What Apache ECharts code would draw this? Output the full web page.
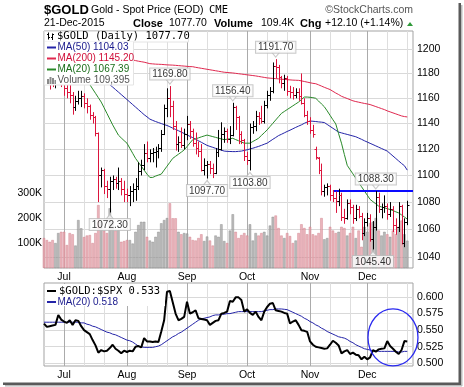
<!DOCTYPE html>
<html><head><meta charset="utf-8">
<script src="https://cdn.jsdelivr.net/npm/echarts@6/dist/echarts.min.js"></script>
<style>html,body{margin:0;padding:0;background:#fff}#c{width:464px;height:387px}</style>
</head><body><div id="c"></div>
<script>
// ---------- DATA ----------
const dates = [
'2015-06-22','2015-06-23','2015-06-24','2015-06-25','2015-06-26','2015-06-29','2015-06-30',
'2015-07-01','2015-07-02','2015-07-06','2015-07-07','2015-07-08','2015-07-09','2015-07-10','2015-07-13','2015-07-14','2015-07-15','2015-07-16','2015-07-17','2015-07-20','2015-07-21','2015-07-22','2015-07-23','2015-07-24','2015-07-27','2015-07-28','2015-07-29','2015-07-30','2015-07-31',
'2015-08-03','2015-08-04','2015-08-05','2015-08-06','2015-08-07','2015-08-10','2015-08-11','2015-08-12','2015-08-13','2015-08-14','2015-08-17','2015-08-18','2015-08-19','2015-08-20','2015-08-21','2015-08-24','2015-08-25','2015-08-26','2015-08-27','2015-08-28','2015-08-31',
'2015-09-01','2015-09-02','2015-09-03','2015-09-04','2015-09-08','2015-09-09','2015-09-10','2015-09-11','2015-09-14','2015-09-15','2015-09-16','2015-09-17','2015-09-18','2015-09-21','2015-09-22','2015-09-23','2015-09-24','2015-09-25','2015-09-28','2015-09-29','2015-09-30',
'2015-10-01','2015-10-02','2015-10-05','2015-10-06','2015-10-07','2015-10-08','2015-10-09','2015-10-12','2015-10-13','2015-10-14','2015-10-15','2015-10-16','2015-10-19','2015-10-20','2015-10-21','2015-10-22','2015-10-23','2015-10-26','2015-10-27','2015-10-28','2015-10-29','2015-10-30',
'2015-11-02','2015-11-03','2015-11-04','2015-11-05','2015-11-06','2015-11-09','2015-11-10','2015-11-11','2015-11-12','2015-11-13','2015-11-16','2015-11-17','2015-11-18','2015-11-19','2015-11-20','2015-11-23','2015-11-24','2015-11-25','2015-11-27','2015-11-30',
'2015-12-01','2015-12-02','2015-12-03','2015-12-04','2015-12-07','2015-12-08','2015-12-09','2015-12-10','2015-12-11','2015-12-14','2015-12-15','2015-12-16','2015-12-17','2015-12-18','2015-12-21'];
const padDates = ['2015-12-22','2015-12-23'];

const opens = [1200,1185,1176,1175,1172,1173,1179,1172,1168,1165,1163,1153,1158,1160,1162,1156,1154,1147,1145,1133,1100,1104,1092,1090,1096,1097,1094,1096,1090,1086,1085,1088,1090,1092,1103,1108,1117,1113,1117,1118,1119,1121,1132,1152,1160,1154,1138,1124,1126,1123,1132,1140,1134,1125,1121,1119,1104,1108,1109,1106,1102,1118,1120,1132,1134,1128,1131,1153,1145,1132,1127,1115,1112,1137,1138,1146,1144,1142,1155,1163,1166,1186,1185,1177,1172,1176,1166,1165,1163,1165,1162,1156,1147,1142,1135,1120,1113,1104,1088,1091,1092,1085,1083,1081,1085,1069,1068,1079,1076,1068,1075,1070,1057,1065,1068,1053,1062,1084,1075,1076,1077,1071,1075,1063,1062,1077,1050,1065.6];
const highs = [1205,1187,1180,1178,1179,1187,1182,1174,1171,1172,1165,1162,1166,1166,1164,1160,1155,1149,1146,1133,1106,1105,1096,1099,1100,1099,1106,1098,1096,1090,1092,1094,1098,1110,1112,1124,1126,1120,1121,1122,1124,1135,1155,1168,1169.8,1158,1142,1130,1137,1136,1146,1142,1136,1133,1126,1124,1113,1111,1111,1109,1121,1135,1141,1137,1136,1138,1156.4,1154,1146,1134,1128,1118,1140,1142,1150,1149,1154,1158,1166,1169,1189,1191.7,1187,1178,1179,1178,1170,1169,1168,1168,1180,1160,1150,1145,1139,1122,1114,1109,1093,1094,1093,1089,1088,1090,1087,1075,1082,1082,1078,1078,1077,1072,1068,1072,1071,1066,1088.3,1087,1079,1085,1079,1080,1077,1068,1080,1078,1068,1081];
const lows = [1183,1173,1167,1169,1168,1172,1169,1162,1160,1156,1147,1150,1155,1153,1152,1148,1143,1140,1130,1080,1091,1086,1083,1072.3,1089,1090,1089,1085,1080,1080,1077,1080,1081,1089,1100,1104,1110,1110,1110,1106,1113,1118,1131,1145,1145,1135,1119,1118,1121,1120,1127,1128,1122,1116,1114,1103,1100,1097.7,1101,1098,1101,1114,1119,1125,1125,1124,1130,1135,1124,1124,1111,1108,1103.8,1132,1134,1139,1140,1140,1152,1158,1164,1176,1172,1168,1166,1162,1160,1159,1160,1158,1155,1145,1139,1132,1129,1112,1101,1085,1084,1085,1081,1080,1072,1077,1066,1064,1067,1071,1064,1066,1068,1052,1055,1062,1051,1045.4,1059,1072,1068,1072,1067,1069,1058,1056,1058,1049,1047,1063];
const closes = [1185,1176,1175,1172,1173,1179,1172,1168,1165,1163,1153,1158,1160,1162,1156,1154,1147,1145,1133,1100,1104,1092,1090,1096,1097,1094,1096,1090,1086,1085,1088,1090,1092,1103,1108,1117,1113,1117,1118,1119,1121,1132,1152,1160,1154,1138,1124,1126,1123,1132,1140,1134,1125,1121,1119,1104,1108,1109,1106,1102,1118,1120,1132,1134,1128,1131,1153,1145,1132,1127,1115,1112,1137,1138,1146,1144,1142,1155,1163,1166,1186,1185,1177,1172,1176,1166,1165,1163,1165,1162,1156,1147,1142,1135,1132,1114,1104,1088,1091,1092,1085,1083,1081,1085,1069,1068,1079,1076,1068,1075,1070,1057,1065,1068,1053,1062,1084,1075,1076,1077,1071,1075,1063,1062,1077,1050,1065.6,1077.7];
// volume in thousands
const volumes = [120,112,105,112,100,140,145,145,92,140,135,90,192,159,124,130,132,100,140,252,185,150,140,239,185,150,152,105,108,112,112,98,145,172,185,185,125,110,105,125,145,179,192,200,259,199,199,145,135,140,138,125,112,110,120,135,108,126,110,90,130,125,175,108,100,150,215,145,120,132,140,130,175,110,140,130,140,145,130,170,205,210,160,130,120,140,128,100,110,140,175,160,135,165,135,130,140,200,115,120,165,150,140,145,165,160,130,140,165,120,150,85,165,145,180,185,200,150,130,145,135,125,150,135,165,190,135,109.4];
const ma20 = [1186,1186,1185.5,1185,1184.5,1184,1183.5,1183,1182.2,1181.4,1180.5,1179.6,1178.7,1177.7,1176.5,1174,1171,1167.5,1164,1160.5,1157,1152.5,1148,1143.5,1139,1135,1131,1128.8,1126.7,1124.7,1120.8,1116.9,1113,1110,1107,1104,1101,1098.5,1098.5,1099.5,1100.3,1101,1104,1107,1110,1113,1114.6,1116.2,1117.8,1119.5,1122.1,1124.8,1127.4,1128.1,1128.8,1129.6,1130.3,1131,1130.4,1129.8,1129.2,1128.6,1128,1127.4,1127.8,1128.1,1128.5,1127.5,1126.6,1125.6,1124.7,1124.7,1124.7,1126,1127.2,1128.5,1130.7,1132.8,1135,1137.6,1140.2,1142.8,1145.4,1148,1149.5,1151,1152.5,1154,1155.5,1157,1159,1161,1161,1160.8,1160.5,1160,1157.8,1155.5,1153.3,1150,1146.5,1143,1139.7,1132,1124.7,1116,1107.7,1104.4,1101.2,1097.9,1094.6,1091.5,1088.3,1085.2,1082,1080.3,1078.7,1077,1076.4,1075.8,1075.1,1074.5,1073.7,1072.8,1072,1070.5,1069,1067.39];
const ma50 = [1190,1190,1189.8,1189.5,1189.2,1189,1188.6,1188.2,1187.8,1187.3,1186.8,1186.2,1185.6,1185,1184.2,1183.4,1182.5,1181.5,1180.4,1179,1177,1175,1173,1171,1169,1167,1165,1163,1161,1159,1157,1155,1153,1151,1149,1147,1145.3,1143.5,1142.5,1141.6,1140.8,1140,1139.2,1138.5,1137.5,1136.4,1135.4,1134.4,1133.3,1132.2,1131.1,1130,1129,1127.8,1126.6,1125.4,1124.2,1123,1122.2,1121.5,1120.7,1120,1119.3,1118.6,1118.4,1118.3,1118.2,1118.2,1118.4,1118.6,1119.1,1119.6,1120.2,1120.8,1121.5,1122.2,1123,1123.9,1124.7,1126.2,1127.7,1129.1,1130.6,1131.6,1132.7,1133.8,1134.8,1135.9,1137,1138,1139,1140.2,1141.2,1142,1141.8,1141.6,1141.3,1141.1,1140.8,1139.3,1137.8,1136.3,1134.8,1133.3,1132.7,1132.1,1131.5,1130.9,1130.3,1129.7,1128.7,1127.7,1126.6,1125.6,1124.6,1123.6,1122.6,1121.6,1120.6,1119.6,1118.6,1116.7,1114.8,1112.9,1111,1109.1,1107.4,1104.03];
const ma200 = [1199,1198.8,1198.6,1198.4,1198.2,1198,1197.7,1197.4,1197.1,1196.8,1196.5,1196.2,1195.9,1195.6,1195.3,1195,1194.7,1194.4,1194.1,1193.8,1193.5,1193.2,1192.9,1192.6,1192.3,1192,1191.8,1191.6,1191.4,1191.2,1191.1,1191,1190.5,1190,1189.6,1189.2,1188.6,1188,1187.8,1187.6,1187.5,1187.4,1187.2,1187,1186.9,1186.8,1186.6,1186.4,1186.2,1186,1185.8,1185.6,1185.5,1185,1184.6,1184.2,1183.8,1183.4,1183,1182.6,1182.2,1181.8,1181.4,1181,1180.8,1180.6,1180.4,1180.1,1179.8,1179.5,1179.2,1178.9,1178.6,1178.3,1178,1177.6,1177.2,1176.8,1176.4,1176.2,1176,1175.8,1175.6,1175.3,1175.2,1175,1174.8,1174.6,1174.5,1174.4,1174,1173.5,1173,1172.5,1172,1171.7,1170.8,1169.8,1168.8,1167.9,1167,1165.6,1164.2,1163,1161.6,1160.7,1159.8,1158.9,1158,1157.4,1156.9,1156.4,1155.9,1155.5,1155,1154.2,1153.4,1152.6,1151.8,1151,1150,1149.2,1148.4,1147.6,1146.8,1146,1145.5,1145.2];
const ratio = [0.560,0.555,0.556,0.557,0.558,0.573,0.566,0.563,0.561,0.565,0.558,0.565,0.564,0.556,0.550,0.547,0.544,0.535,0.527,0.516,0.520,0.518,0.519,0.523,0.528,0.522,0.519,0.515,0.519,0.517,0.519,0.518,0.525,0.526,0.524,0.538,0.533,0.533,0.532,0.533,0.532,0.548,0.565,0.608,0.609,0.592,0.575,0.565,0.567,0.570,0.593,0.575,0.577,0.580,0.568,0.567,0.566,0.565,0.558,0.561,0.564,0.565,0.575,0.576,0.578,0.594,0.593,0.5995,0.5995,0.5955,0.578,0.5815,0.576,0.573,0.578,0.570,0.565,0.578,0.585,0.590,0.591,0.580,0.579,0.578,0.576,0.575,0.560,0.563,0.565,0.558,0.550,0.549,0.5475,0.533,0.528,0.525,0.524,0.523,0.522,0.5225,0.528,0.534,0.531,0.527,0.515,0.518,0.520,0.514,0.516,0.513,0.512,0.506,0.510,0.506,0.509,0.520,0.5175,0.521,0.522,0.5225,0.5335,0.526,0.522,0.5175,0.514,0.520,0.5335,0.533];
const ratioMa20 = [0.562,0.562,0.562,0.562,0.562,0.562,0.562,0.562,0.562,0.562,0.562,0.562,0.562,0.561,0.561,0.559,0.558,0.556,0.555,0.553,0.551,0.549,0.547,0.546,0.544,0.543,0.541,0.539,0.537,0.535,0.534,0.532,0.529,0.526,0.525,0.524,0.524,0.524,0.524,0.525,0.526,0.528,0.531,0.534,0.537,0.540,0.542,0.545,0.547,0.550,0.553,0.556,0.559,0.562,0.565,0.567,0.568,0.569,0.570,0.572,0.573,0.573,0.574,0.574,0.575,0.575,0.576,0.577,0.578,0.578,0.578,0.578,0.578,0.578,0.578,0.578,0.578,0.579,0.580,0.581,0.581,0.582,0.582,0.582,0.5815,0.581,0.579,0.577,0.575,0.573,0.571,0.568,0.566,0.563,0.561,0.558,0.556,0.553,0.551,0.548,0.546,0.544,0.542,0.540,0.539,0.538,0.536,0.533,0.531,0.528,0.526,0.524,0.522,0.521,0.520,0.519,0.519,0.518,0.518,0.518,0.518,0.518,0.518,0.518,0.517,0.517,0.518,0.518];
const priceTicks = [1040,1060,1080,1100,1120,1140,1160,1180,1200];
const volumeTicks = [100,200,300];
const ratioTicks = [0.500,0.525,0.550,0.575,0.600];
const highCallouts = [['2015-08-24',1169.80],['2015-09-24',1156.40],['2015-10-15',1191.70],['2015-12-04',1088.30]];
const lowCallouts = [['2015-07-24',1072.30],['2015-09-11',1097.70],['2015-10-02',1103.80],['2015-12-03',1045.40]];
const resistance = 1088.30;
const monthNames = ['Jan','Feb','Mar','Apr','May','Jun','Jul','Aug','Sep','Oct','Nov','Dec'];

// ---------- BUILD ----------
const cats = dates.concat(padDates);
const monthStart = new Set();
dates.forEach((d,i)=>{ if(i>0 && d.slice(5,7)!==dates[i-1].slice(5,7)) monthStart.add(i); });
const minorLines = new Set();
monthStart.forEach(i=>{ minorLines.add(i+7); minorLines.add(i+14); });
const up = closes.map((c,i)=> i===0 ? c>=opens[i] : c>=closes[i-1]);
const RED='#dc143c', BLK='#000';
const ohlc = dates.map((d,i)=>[i, opens[i], highs[i], lows[i], closes[i], up[i]?1:0]);
const SANS='"Liberation Sans", Arial, sans-serif';
const MONO='"DejaVu Sans Mono", monospace';

function renderOHLC(params, api){
  const i = api.value(0);
  const pH = api.coord([i, api.value(2)]);
  const pL = api.coord([i, api.value(3)]);
  const pO = api.coord([i, api.value(1)]);
  const pC = api.coord([i, api.value(4)]);
  const x = Math.round(pH[0]) + 0.5;
  const col = api.value(5) ? BLK : RED;
  const oy = Math.round(pO[1]) + 0.5, cy = Math.round(pC[1]) + 0.5;
  return {type:'group', children:[
    {type:'line', shape:{x1:x,y1:pH[1],x2:x,y2:pL[1]}, style:{stroke:col,lineWidth:1}},
    {type:'line', shape:{x1:x-2,y1:oy,x2:x,y2:oy}, style:{stroke:col,lineWidth:1}},
    {type:'line', shape:{x1:x,y1:cy,x2:x+2,y2:cy}, style:{stroke:col,lineWidth:1}}
  ]};
}

const monthLabel = {interval:(idx)=>monthStart.has(idx), formatter:(v)=>monthNames[parseInt(v.slice(5,7),10)-1], color:'#000', fontFamily:SANS, fontSize:10.5, margin:4};
function xAxes(gridIndex){
  return [
    {type:'category', gridIndex, position:'bottom', data:cats, boundaryGap:false, axisLine:{show:false}, axisTick:{show:false},
     axisLabel:monthLabel, splitLine:{show:true, interval:(idx)=>monthStart.has(idx), lineStyle:{color:'#ababab', width:1}}},
    {type:'category', gridIndex, position:'bottom', data:cats, boundaryGap:false, axisLine:{show:false}, axisTick:{show:false},
     axisLabel:{show:false}, splitLine:{show:true, interval:(idx)=>minorLines.has(idx), lineStyle:{color:'#dedede', width:1}}}
  ];
}

const labelStyle = {show:true, color:'#000', fontFamily:SANS, fontSize:10, backgroundColor:'#fff', borderColor:'#bdbdbd', borderWidth:1, padding:[1,2,0,2], formatter:(p)=>p.value[1].toFixed(2)};
const ratioLabelValues = ratioTicks.slice(1);   // lowest tick label is drawn below as text (the axis hides it at the corner)

const option = {
  animation:false,
  backgroundColor:'#fff',
  grid:[
    {left:44, top:31, width:369, height:237, show:true, borderColor:'#a3a3a3', borderWidth:1, containLabel:false, outerBoundsMode:'none'},
    {left:44, top:283, width:369, height:83, show:true, borderColor:'#a3a3a3', borderWidth:1, containLabel:false, outerBoundsMode:'none'}
  ],
  xAxis: xAxes(0).concat(xAxes(1)),
  yAxis:[
    {type:'log', gridIndex:0, position:'right', min:1032.1, max:1215, axisLine:{show:false},
     axisTick:{show:true, length:0, customValues:priceTicks},
     axisLabel:{customValues:priceTicks, formatter:(v)=>String(Math.round(v)), color:'#000', fontFamily:SANS, fontSize:10.5, margin:4, hideOverlap:false},
     splitLine:{show:true, lineStyle:{color:'#d9d9d9'}}},
    {type:'value', gridIndex:0, position:'left', min:0, max:948, axisLine:{show:false},
     axisTick:{show:true, length:0, customValues:volumeTicks},
     axisLabel:{customValues:volumeTicks, formatter:(v)=>v+'K', color:'#000', fontFamily:SANS, fontSize:10.5, margin:2, hideOverlap:false},
     splitLine:{show:false}},
    {type:'value', gridIndex:1, position:'right', min:0.4959, max:0.6212, axisLine:{show:false},
     axisTick:{show:true, length:0, customValues:ratioTicks},
     axisLabel:{customValues:ratioLabelValues, formatter:(v)=>v.toFixed(3), color:'#000', fontFamily:SANS, fontSize:10.5, margin:4, hideOverlap:false},
     splitLine:{show:true, lineStyle:{color:'#d9d9d9'}}}
  ],
  series:[
    {type:'bar', name:'Volume', xAxisIndex:0, yAxisIndex:1, barCategoryGap:'12%', z:1,
     data: volumes.map((v,i)=>({value:v, itemStyle:{color: up[i]?'#a8a8a8':'#e6a2aa', borderColor: up[i]?'#808080':'#cc7482', borderWidth:0.5, opacity:0.78}}))},
    {type:'line', name:'MA(200)', xAxisIndex:0, yAxisIndex:0, data:ma200, symbol:'none', z:3, lineStyle:{color:'#e0284f', width:1}},
    {type:'line', name:'MA(50)', xAxisIndex:0, yAxisIndex:0, data:ma50, symbol:'none', z:3, lineStyle:{color:'#2424a8', width:1}},
    {type:'line', name:'MA(20)', xAxisIndex:0, yAxisIndex:0, data:ma20, symbol:'none', z:3, lineStyle:{color:'#2a8a2a', width:1},
     markLine:{symbol:'none', silent:true, label:{show:false}, lineStyle:{color:'#0a0aff', width:2, type:'solid'},
       data:[[{coord:[dates[101], resistance]},{coord:[cats[cats.length-1], resistance]}]]}},
    {type:'custom', name:'$GOLD', xAxisIndex:0, yAxisIndex:0, renderItem:renderOHLC, data:ohlc, clip:true, z:5,
     dimensions:['i','open','high','low','close','up'], encode:{x:0, y:[1,2,3,4]}},
    {type:'scatter', xAxisIndex:0, yAxisIndex:0, z:8, symbol:'triangle', symbolSize:[8,5], symbolRotate:180, symbolOffset:[0,-4.5],
     itemStyle:{color:'#fff', borderColor:'#bdbdbd', borderWidth:1}, data:highCallouts},
    {type:'scatter', xAxisIndex:0, yAxisIndex:0, z:8, symbol:'triangle', symbolSize:[8,5], symbolOffset:[0,4.5],
     itemStyle:{color:'#fff', borderColor:'#bdbdbd', borderWidth:1}, data:lowCallouts},
    {type:'scatter', xAxisIndex:0, yAxisIndex:0, z:9, symbolSize:1, itemStyle:{color:'rgba(0,0,0,0)'},
     label:Object.assign({}, labelStyle, {position:'top', distance:6}), data:highCallouts},
    {type:'scatter', xAxisIndex:0, yAxisIndex:0, z:9, symbolSize:1, itemStyle:{color:'rgba(0,0,0,0)'},
     label:Object.assign({}, labelStyle, {position:'bottom', distance:6}), data:lowCallouts},
    {type:'line', name:'MA(20) ratio', xAxisIndex:2, yAxisIndex:2, data:ratioMa20, symbol:'none', z:3, lineStyle:{color:'#2424a8', width:1}},
    {type:'line', name:'$GOLD:$SPX', xAxisIndex:2, yAxisIndex:2, data:ratio, symbol:'none', z:4, lineStyle:{color:'#000', width:2}}
  ]
};

const chart = echarts.init(document.getElementById('c'), null, {renderer:'canvas', width:464, height:387});
chart.setOption(option);

function T(text, x, y, font, fill, align){
  return {type:'text', x, y, z:100, style:{text, font, fill:fill||'#000', align:align||'left', verticalAlign:'middle'}};
}
const g = [];
// header
g.push(T('$GOLD', 44, 10, 'bold 13px '+SANS));
g.push(T('Gold - Spot Price (EOD)', 91, 10.5, '10.5px '+SANS));
g.push(T('CME', 209, 10.5, '10.5px '+MONO));
g.push(T('\u00A9StockCharts.com', 413, 10.5, '10.5px '+SANS, '#555', 'right'));
g.push(T('21-Dec-2015', 44, 23.5, '10.5px '+SANS));
g.push(T('Close', 133, 23.5, 'bold 11px '+SANS));
g.push(T('1077.70', 169, 23.5, '10.5px '+SANS));
g.push(T('Volume', 214, 23.5, 'bold 11px '+SANS));
g.push(T('109.4K', 261, 23.5, '10.5px '+SANS));
g.push(T('Chg', 300, 23.5, 'bold 11px '+SANS));
g.push(T('+12.10 (+1.14%)', 325, 23.5, '10.5px '+SANS));
g.push({type:'polygon', z:100, shape:{points:[[407,26],[413,26],[410,22]]}, style:{fill:'#2f9a3a'}});
// price legend box
g.push({type:'rect', z:99, shape:{x:44.5, y:31.5, width:144, height:10.5}, style:{fill:'#fff', stroke:'#e4e4e4'}});
g.push({type:'rect', z:99, shape:{x:44.5, y:42, width:89, height:43}, style:{fill:'#fff', stroke:'#e4e4e4'}});
g.push({type:'rect', z:100, shape:{x:45, y:41.5, width:88, height:1.5}, style:{fill:'#fff'}});
// OHLC glyph
[[48.5,32.5,39.5,34.5,37.5],[52.5,33.5,40,37.5,34.5]].forEach(([x,t,b,o,c])=>{
  g.push({type:'line', z:101, shape:{x1:x,y1:t,x2:x,y2:b}, style:{stroke:'#000',lineWidth:1}});
  g.push({type:'line', z:101, shape:{x1:x-1.5,y1:o,x2:x,y2:o}, style:{stroke:'#000',lineWidth:1}});
  g.push({type:'line', z:101, shape:{x1:x,y1:c,x2:x+1.5,y2:c}, style:{stroke:'#000',lineWidth:1}});
});
g.push(T('$GOLD (Daily) 1077.70', 57, 36.5, '10.5px '+MONO));
const legRows = [['MA(50) 1104.03','#1a1a8c','#2424a8',47.5],['MA(200) 1145.20','#d0103a','#e0284f',58.5],['MA(20) 1067.39','#1a6e1a','#2a8a2a',69.5]];
legRows.forEach(([t,tc,lc,y])=>{
  g.push({type:'line', z:101, shape:{x1:47,y1:y,x2:56,y2:y}, style:{stroke:lc,lineWidth:2}});
  g.push(T(t, 57.5, y, '10px '+SANS, tc));
});
[[47,79,2,5],[49.5,77,2,7],[52,78,2,6],[54.5,80,1.5,4]].forEach(([x,y,w,h])=>{
  g.push({type:'rect', z:101, shape:{x,y,width:w,height:h}, style:{fill:'#8a8a8a'}});
});
g.push(T('Volume 109,395', 57.5, 80, '10px '+SANS, '#555'));
// ratio legend
g.push({type:'rect', z:99, shape:{x:45, y:284, width:120, height:22}, style:{fill:'#fff'}});
g.push({type:'line', z:101, shape:{x1:47,y1:291,x2:56,y2:291}, style:{stroke:'#000',lineWidth:2}});
g.push(T('$GOLD:$SPX 0.533', 59, 291, '10.5px '+MONO));
g.push({type:'line', z:101, shape:{x1:47,y1:302,x2:56,y2:302}, style:{stroke:'#2424a8',lineWidth:2}});
g.push(T('MA(20) 0.518', 57.5, 302, '10px '+SANS, '#1a1a8c'));
// lowest ratio tick label, placed through the axis scale
const lowTick = chart.convertToPixel({xAxisIndex:2, yAxisIndex:2}, [cats[cats.length-1], ratioTicks[0]]);
g.push(T(ratioTicks[0].toFixed(3), lowTick[0]+4, lowTick[1], '10.5px '+SANS));
// annotation ellipse (positioned through the chart's own scales)
const ctr = chart.convertToPixel({xAxisIndex:2, yAxisIndex:2}, [dates[122], 0.539]);
g.push({type:'ellipse', z:100, shape:{cx:ctr[0], cy:ctr[1], rx:25, ry:28.5}, style:{fill:'none', stroke:'#2a2af0', lineWidth:1.3}});
// frame shadow
g.push({type:'rect', z:100, shape:{x:458.5, y:3, width:2.5, height:382}, style:{fill:'#5a5a5a'}});
g.push({type:'rect', z:100, shape:{x:3, y:382.5, width:458, height:2.5}, style:{fill:'#5a5a5a'}});
g.push({type:'rect', z:100, shape:{x:461, y:5, width:1.5, height:381}, style:{fill:'#bbb'}});
g.push({type:'rect', z:100, shape:{x:5, y:385, width:457, height:1.5}, style:{fill:'#bbb'}});
chart.setOption({graphic:{elements:g}});
</script>
</body></html>
